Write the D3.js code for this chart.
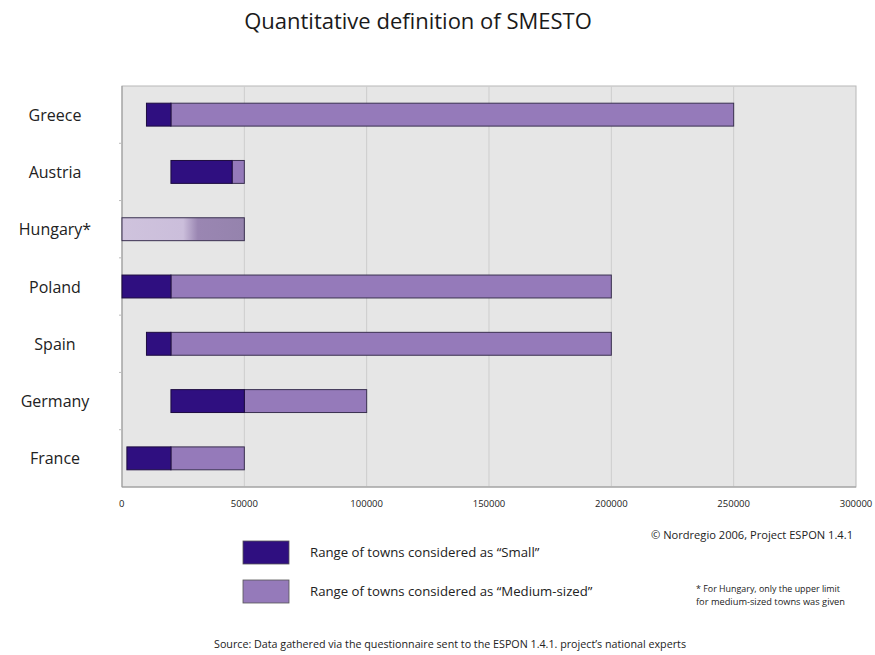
<!DOCTYPE html>
<html>
<head>
<meta charset="utf-8">
<script src="https://cdn.jsdelivr.net/npm/d3@7"></script>
<style>
  body { margin: 0; background: #fff; }
  text { font-family: "Open Sans", "DejaVu Sans", sans-serif; }
</style>
</head>
<body>
<script>
// chart values
var countries = ['Greece', 'Austria', 'Hungary*', 'Poland', 'Spain', 'Germany', 'France'];
var smallFrom = [10000, 20000, 0, 0, 10000, 20000, 2000];
var smallTo = [20000, 45000, 30000, 20000, 20000, 50000, 20000];
var mediumTo = [250000, 50000, 50000, 200000, 200000, 100000, 50000];
var tickValues = [0, 50000, 100000, 150000, 200000, 250000, 300000];

var width = 875, height = 655;
var margin = { left: 122, right: 19, top: 86, bottom: 168 };

var svg = d3.select('body').append('svg').attr('width', width).attr('height', height);

var x = d3.scaleLinear().domain([0, 300000]).range([margin.left, width - margin.right]);
var band = d3.scaleBand().domain(countries).range([margin.top, height - margin.bottom]);

var dark = '#2f0f80';
var mid = '#957aba';

// gradient for Hungary (only upper limit known)
var defs = svg.append('defs');
var grad = defs.append('linearGradient').attr('id', 'hun').attr('x1', '0%').attr('x2', '100%');
grad.append('stop').attr('offset', '0%').attr('stop-color', '#cfc3dd');
grad.append('stop').attr('offset', '50%').attr('stop-color', '#cbbedb');
grad.append('stop').attr('offset', '62%').attr('stop-color', '#9a86b2');
grad.append('stop').attr('offset', '100%').attr('stop-color', '#9583ad');

// plot background
svg.append('rect')
    .attr('x', margin.left).attr('y', margin.top)
    .attr('width', width - margin.right - margin.left)
    .attr('height', height - margin.bottom - margin.top)
    .attr('fill', '#e6e6e6')
    .attr('stroke', '#b8b8b8');

// vertical grid lines
svg.selectAll('line.grid')
    .data(tickValues.slice(1, -1))
    .enter().append('line')
    .attr('class', 'grid')
    .attr('x1', function (d) { return x(d); })
    .attr('x2', function (d) { return x(d); })
    .attr('y1', margin.top).attr('y2', height - margin.bottom)
    .attr('stroke', '#cdcdcd');

// left axis line and small band ticks
svg.append('line')
    .attr('x1', margin.left).attr('x2', margin.left)
    .attr('y1', margin.top).attr('y2', height - margin.bottom)
    .attr('stroke', '#999');
svg.selectAll('line.btick')
    .data(countries.slice(1))
    .enter().append('line')
    .attr('class', 'btick')
    .attr('x1', margin.left - 3).attr('x2', margin.left)
    .attr('y1', function (d) { return band(d); })
    .attr('y2', function (d) { return band(d); })
    .attr('stroke', '#bbb');
svg.append('line')
    .attr('x1', margin.left).attr('x2', width - margin.right)
    .attr('y1', height - margin.bottom).attr('y2', height - margin.bottom)
    .attr('stroke', '#999');

// bars
var rows = countries.map(function (c, i) {
    return { name: c, s0: smallFrom[i], s1: smallTo[i], m1: mediumTo[i] };
});

rows.forEach(function (d) {
    var yy = band(d.name) + band.bandwidth() * 0.3;
    var hh = band.bandwidth() * 0.4;
    if (d.name == 'Hungary*') {
        svg.append('rect')
            .attr('x', x(d.s0)).attr('y', yy)
            .attr('width', x(d.m1) - x(d.s0)).attr('height', hh)
            .attr('fill', 'url(#hun)')
            .attr('stroke', '#3a3050').attr('stroke-width', 1);
        return;
    }
    svg.append('rect')
        .attr('x', x(d.s1)).attr('y', yy)
        .attr('width', x(d.m1) - x(d.s1)).attr('height', hh)
        .attr('fill', mid)
        .attr('stroke', '#3a3050').attr('stroke-width', 1);
    svg.append('rect')
        .attr('x', x(d.s0)).attr('y', yy)
        .attr('width', x(d.s1) - x(d.s0)).attr('height', hh)
        .attr('fill', dark)
        .attr('stroke', '#1d0b40').attr('stroke-width', 1);
});

// category labels
svg.selectAll('text.cat')
    .data(countries)
    .enter().append('text')
    .attr('class', 'cat')
    .attr('x', 55)
    .attr('y', function (d) { return band(d) + band.bandwidth() / 2 + 6; })
    .attr('text-anchor', 'middle')
    .attr('font-size', 16)
    .attr('fill', '#222')
    .text(function (d) { return d; });

// x tick labels
svg.selectAll('text.xt')
    .data(tickValues)
    .enter().append('text')
    .attr('class', 'xt')
    .attr('x', function (d) { return x(d); })
    .attr('y', 507)
    .attr('text-anchor', function (d) { return d == 0 ? 'start' : 'middle'; })
    .attr('dx', function (d) { return d == 0 ? -3 : 0; })
    .attr('font-size', 9.5)
    .attr('fill', '#222')
    .text(function (d) { return d; });

// title
svg.append('text')
    .attr('x', 418).attr('y', 29)
    .attr('text-anchor', 'middle')
    .attr('font-size', 22)
    .attr('fill', '#1a1a1a')
    .text('Quantitative definition of SMESTO');

// legend
var legend = [{ c: dark, t: 'Range of towns considered as \u201cSmall\u201d', y: 541 },
              { c: mid, t: 'Range of towns considered as \u201cMedium-sized\u201d', y: 580 }];
legend.forEach(function (l) {
    svg.append('rect')
        .attr('x', 243).attr('y', l.y).attr('width', 46).attr('height', 23)
        .attr('fill', l.c).attr('stroke', '#555').attr('stroke-width', 0.8);
    svg.append('text')
        .attr('x', 310).attr('y', l.y + 16)
        .attr('font-size', 13.2).attr('fill', '#222')
        .text(l.t);
});

svg.append('text')
    .attr('x', 853).attr('y', 539)
    .attr('text-anchor', 'end')
    .attr('font-size', 10.5).attr('fill', '#222')
    .attr('textLength', 202).attr('lengthAdjust', 'spacingAndGlyphs')
    .text('\u00a9 Nordregio 2006, Project ESPON 1.4.1');

svg.append('text')
    .attr('x', 696).attr('y', 592)
    .attr('font-size', 8.5).attr('fill', '#222')
    .attr('textLength', 144).attr('lengthAdjust', 'spacingAndGlyphs')
    .text('* For Hungary, only the upper limit');
svg.append('text')
    .attr('x', 696).attr('y', 605)
    .attr('font-size', 8.5).attr('fill', '#222')
    .attr('textLength', 149).attr('lengthAdjust', 'spacingAndGlyphs')
    .text('for medium-sized towns was given');

svg.append('text')
    .attr('x', 450).attr('y', 648)
    .attr('text-anchor', 'middle')
    .attr('font-size', 10).attr('fill', '#222')
    .attr('textLength', 472).attr('lengthAdjust', 'spacingAndGlyphs')
    .text('Source: Data gathered via the questionnaire sent to the ESPON 1.4.1. project\u2019s national experts');
</script>
</body>
</html>
